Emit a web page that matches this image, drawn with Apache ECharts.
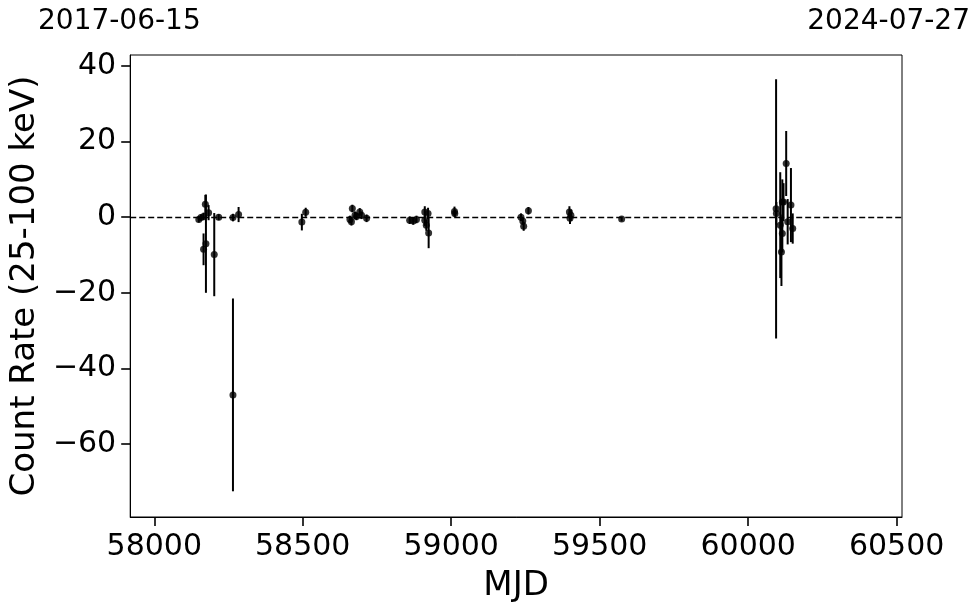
<!DOCTYPE html>
<html>
<head>
<meta charset="utf-8">
<script src="https://cdn.jsdelivr.net/npm/echarts@6/dist/echarts.min.js"></script>
<style>html,body{margin:0;padding:0;background:#fff;}#c{width:980px;height:613px;}</style>
</head>
<body>
<div id="c"></div>
<script>
// Observation times (MJD), count rates (25-100 keV), and 1-sigma errors
const mjd  = [58150, 58157, 58166, 58172, 58174, 58166, 58183, 58202, 58217, 58265, 58265, 58284,
              58497, 58510,
              58659, 58664, 58667, 58676, 58681, 58692, 58698, 58715,
              58860, 58872, 58883, 58911, 58911, 58916, 58922, 58924, 59011, 59012,
              59235, 59241, 59244, 59260, 59398, 59403, 59400,
              59574,
              60094, 60095, 60108, 60115, 60119, 60115, 60112, 60128, 60133, 60144, 60150];
const rate = [-0.6, -0.1, 0.2, 3.4, -7.0, -8.5, 1.2, -9.9, 0.0, -0.1, -47.0, 0.7,
              -1.3, 1.3,
              -0.6, -1.2, 2.3, 0.5, 0.2, 1.4, 0.5, -0.3,
              -0.8, -1.0, -0.6, 1.4, -0.8, -2.1, 1.0, -4.2, 1.5, 1.0,
              0.0, -1.0, -2.4, 1.7, 1.4, 0.5, -0.3,
              -0.5,
              2.2, 1.0, -2.1, 4.0, 4.0, -4.3, -9.2, 14.2, -1.2, 3.2, -3.0];
const err  = [0.8, 0.8, 1.0, 2.5, 13.0, 4.2, 2.0, 11.0, 0.8, 1.0, 25.5, 2.0,
              2.2, 1.2,
              1.0, 1.0, 1.0, 1.0, 1.0, 1.0, 1.0, 1.0,
              1.0, 1.0, 1.0, 1.5, 1.5, 1.5, 1.5, 4.0, 1.3, 1.0,
              1.0, 1.0, 1.2, 1.0, 1.5, 1.5, 1.5,
              0.6,
              34.3, 3.0, 14.0, 6.0, 5.0, 5.0, 9.0, 8.6, 6.0, 9.8, 4.0];
const xTicks = [58000, 58500, 59000, 59500, 60000, 60500];
const yTicks = [-60, -40, -20, 0, 20, 40];
const xRange = [57919, 60518];
const yRange = [-79.3, 42.9];
const dateLeft = '2017-06-15';
const dateRight = '2024-07-27';

const pts = mjd.map((m, i) => [m, rate[i]]);
const bars = mjd.map((m, i) => [m, rate[i] - err[i], rate[i] + err[i]]);
const FONT = 'DejaVu Sans';
const minus = v => String(v).replace('-', '\u2212');

const chart = echarts.init(document.getElementById('c'), null, {renderer: 'canvas'});
chart.setOption({
  animation: false,
  backgroundColor: '#fff',
  textStyle: {fontFamily: FONT},
  grid: {left: 128, right: 78, top: 55, bottom: 96, show: true, borderColor: '#000', borderWidth: 1, backgroundColor: 'transparent'},
  xAxis: {
    type: 'value', min: xRange[0], max: xRange[1],
    name: 'MJD', nameLocation: 'middle', nameGap: 52,
    nameTextStyle: {fontSize: 34, color: '#000', fontFamily: FONT},
    axisLine: {show: true, onZero: false, lineStyle: {color: '#000', width: 1}},
    axisTick: {show: true, length: 9, lineStyle: {color: '#000', width: 1.6}, customValues: xTicks},
    axisLabel: {fontSize: 30, color: '#000', margin: 15, fontFamily: FONT, customValues: xTicks, formatter: v => String(v)},
    splitLine: {show: false}
  },
  yAxis: {
    type: 'value', min: yRange[0], max: yRange[1],
    name: 'Count Rate (25-100 keV)', nameLocation: 'middle', nameGap: 76, nameRotate: 90,
    nameTextStyle: {fontSize: 34, color: '#000', fontFamily: FONT},
    axisLine: {show: true, onZero: false, lineStyle: {color: '#000', width: 1}},
    axisTick: {show: true, length: 9, lineStyle: {color: '#000', width: 1.6}, customValues: yTicks},
    axisLabel: {fontSize: 30, color: '#000', margin: 14, fontFamily: FONT, customValues: yTicks, formatter: v => minus(v)},
    splitLine: {show: false}
  },
  graphic: [
    {type: 'text', left: 38, top: 8, style: {text: dateLeft, fontSize: 28, fill: '#000', fontFamily: FONT}},
    {type: 'text', right: 10, top: 8, style: {text: dateRight, fontSize: 28, fill: '#000', fontFamily: FONT}}
  ],
  series: [
    {
      type: 'custom',
      data: bars,
      z: 3,
      renderItem: (params, api) => {
        const x = api.value(0);
        const lo = api.coord([x, api.value(1)]);
        const hi = api.coord([x, api.value(2)]);
        return {type: 'line', shape: {x1: lo[0], y1: lo[1], x2: hi[0], y2: hi[1]},
                style: {stroke: '#000', lineWidth: 2}};
      },
      silent: true
    },
    {
      type: 'scatter',
      data: pts,
      symbol: 'circle',
      symbolSize: 7,
      itemStyle: {color: '#000'},
      z: 4,
      markLine: {
        silent: true, symbol: 'none',
        label: {show: false},
        lineStyle: {color: '#000', type: [6, 3], width: 1.4},
        data: [{yAxis: 0}]
      }
    }
  ]
});
</script>
</body>
</html>
